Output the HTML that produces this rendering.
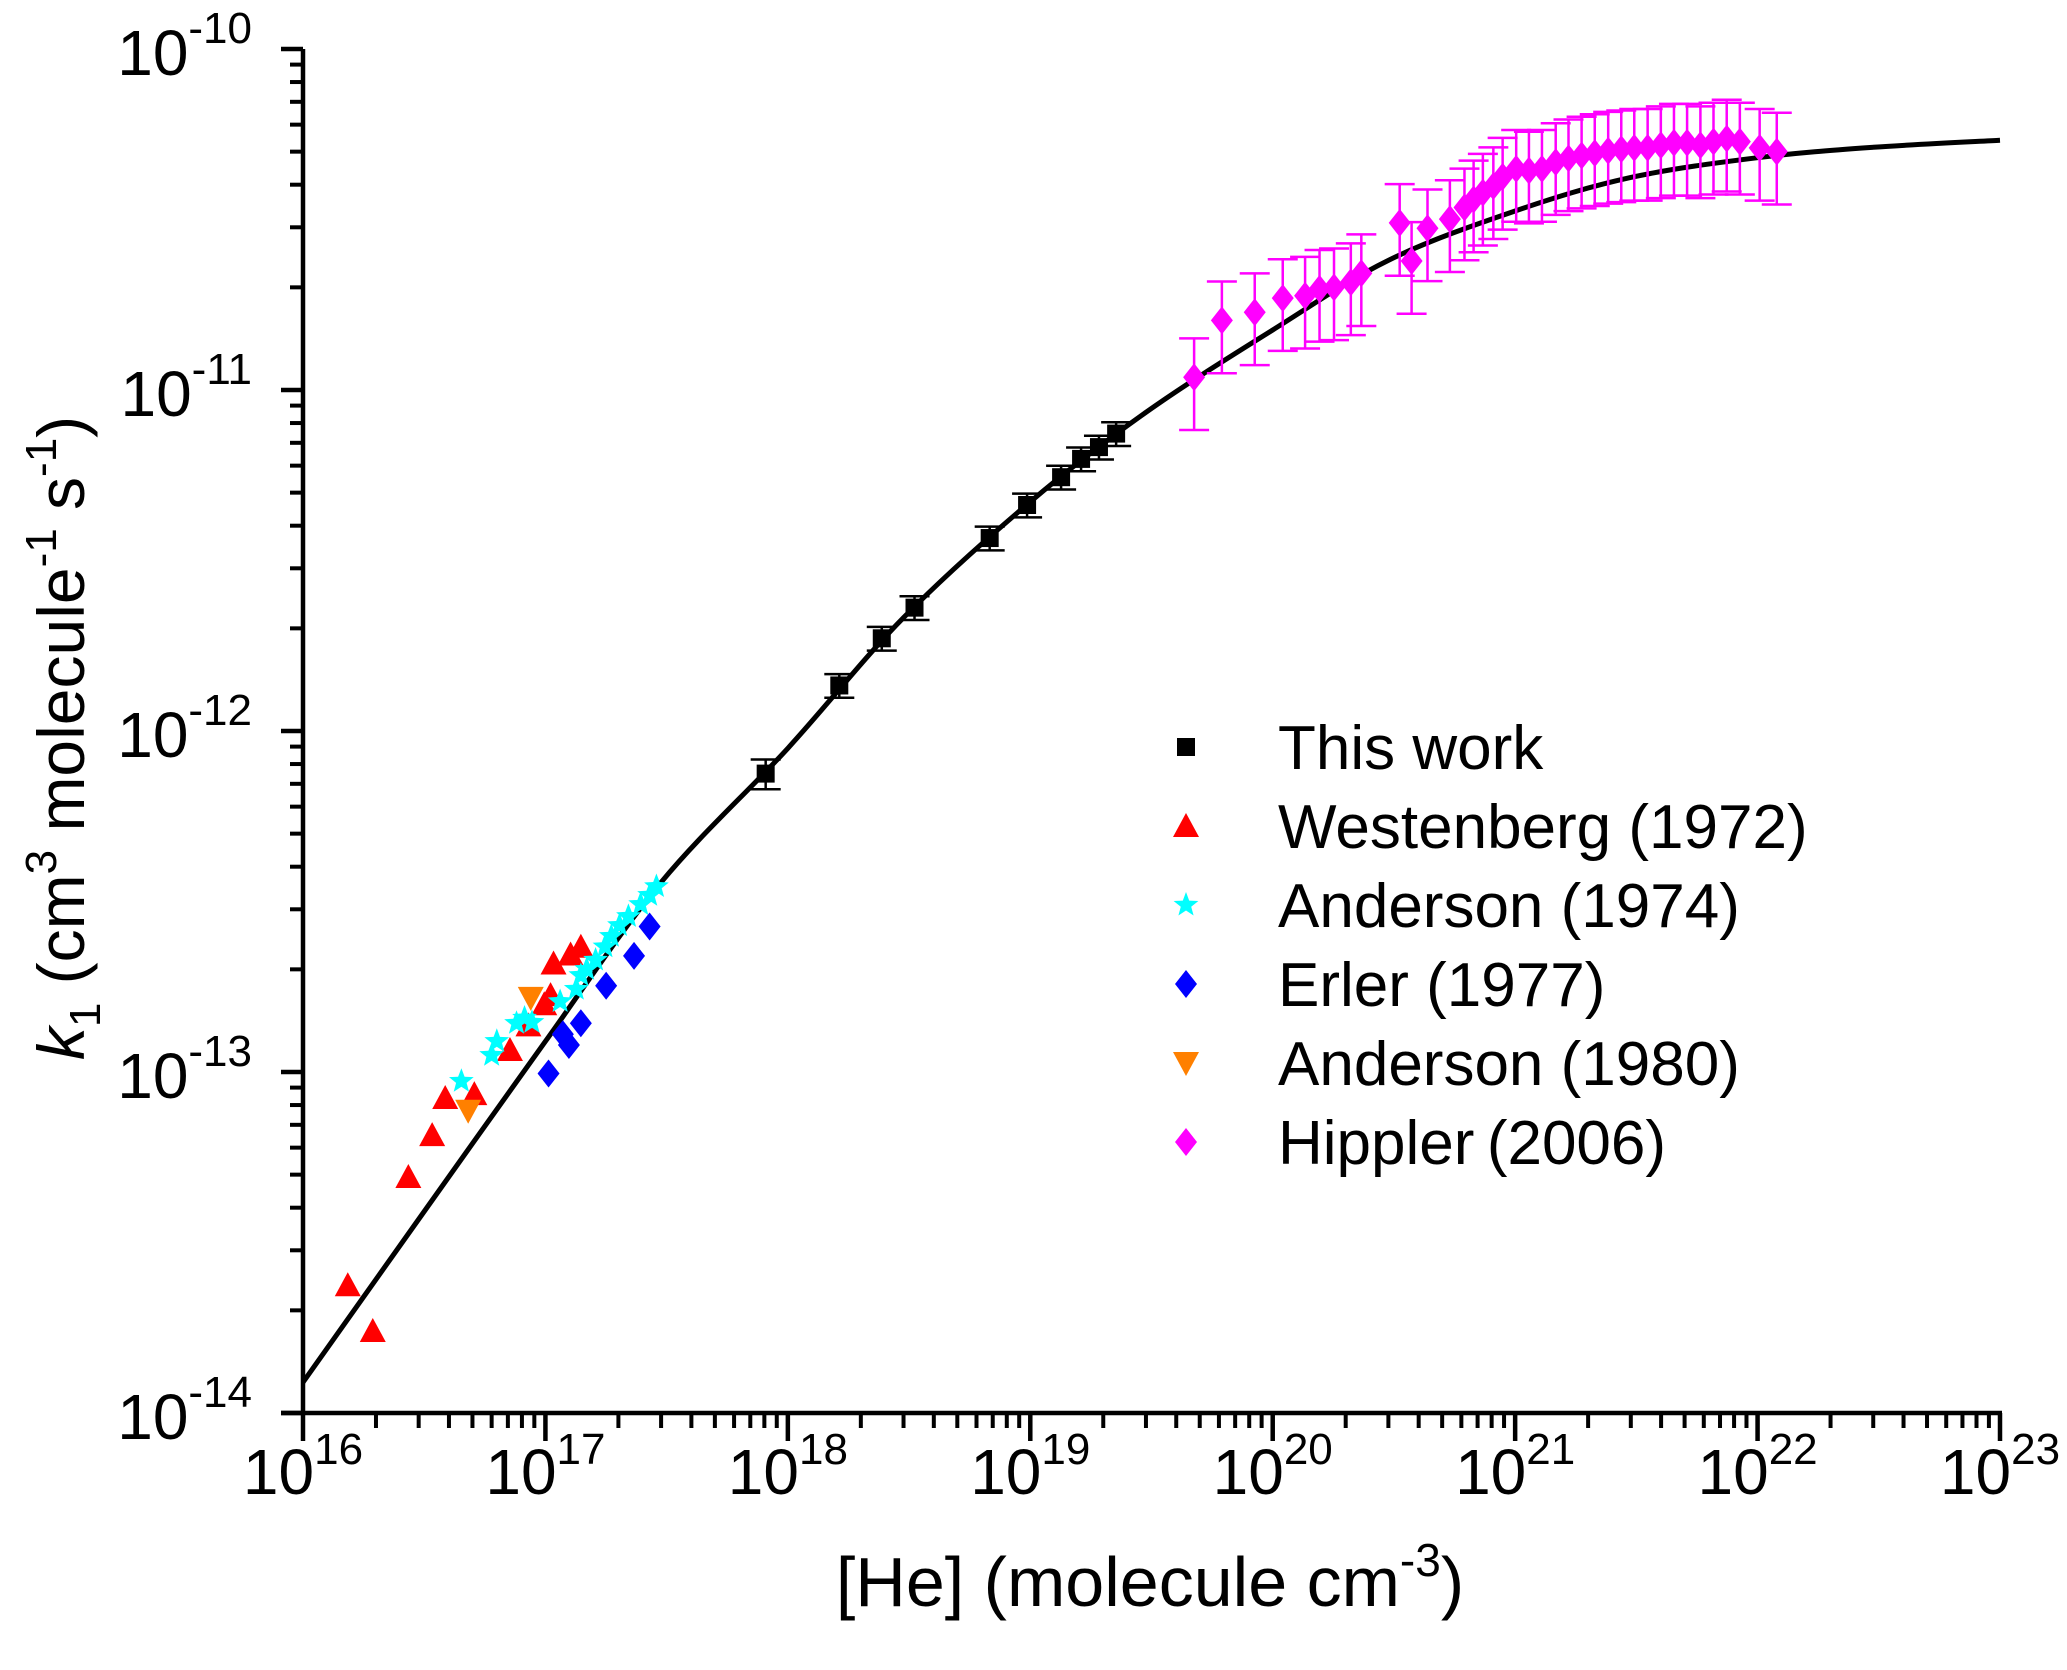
<!DOCTYPE html>
<html><head><meta charset="utf-8"><style>
html,body{margin:0;padding:0;background:#fff;}
svg{display:block;font-family:"Liberation Sans",Arial,sans-serif;}
</style></head><body>
<svg id="chart" width="2067" height="1670" viewBox="0 0 2067 1670" xmlns="http://www.w3.org/2000/svg">
<g id="axes"></g>
<g id="plot"></g>
<g id="legend"></g>
<text x="1150" y="1606" font-size="70" text-anchor="middle">[He] (molecule cm<tspan font-size="46" dy="-30">-3</tspan><tspan dy="30">)</tspan></text>
<text transform="translate(84,738) rotate(-90)" font-size="66" text-anchor="middle"><tspan font-style="italic">k</tspan><tspan font-size="44" dy="16">1</tspan><tspan dy="-16"> (cm</tspan><tspan font-size="44" dy="-28">3</tspan><tspan dy="28"> molecule</tspan><tspan font-size="44" dy="-28">-1</tspan><tspan dy="28"> s</tspan><tspan font-size="44" dy="-28">-1</tspan><tspan dy="28">)</tspan></text>
</svg>
<script>
// ---- data ----
const fitX = [1e16,3e16,1e17,3e17,1e18,3e18,1e19,3e19,1e20,3e20,1e21,3e21,1e22,3e22,1e23];
const fitK = [1.23e-14,3.7e-14,1.23e-13,3.6e-13,0.89e-12,2.15e-12,4.7e-12,8.6e-12,1.5e-11,2.4e-11,3.35e-11,4.2e-11,4.8e-11,5.15e-11,5.4e-11];

const thisWorkX = [8.1e17,1.63e18,2.44e18,3.33e18,6.8e18,9.7e18,1.34e19,1.62e19,1.92e19,2.26e19];
const thisWorkK = [7.5e-13,1.36e-12,1.87e-12,2.3e-12,3.68e-12,4.6e-12,5.55e-12,6.28e-12,6.8e-12,7.45e-12];
const thisWorkErr = [0.1,0.08,0.08,0.08,0.08,0.08,0.08,0.08,0.08,0.08];

const westX = [1.53e16,1.94e16,2.72e16,3.41e16,3.86e16,5.09e16,7.14e16,8.51e16,9.89e16,1.05e17,1.08e17,1.27e17,1.40e17];
const westK = [2.37e-14,1.74e-14,4.92e-14,6.53e-14,8.39e-14,8.61e-14,1.16e-13,1.37e-13,1.58e-13,1.68e-13,2.08e-13,2.21e-13,2.33e-13];

const and74X = [4.5e16,6.0e16,6.3e16,7.6e16,8.2e16,8.8e16,1.15e17,1.34e17,1.40e17,1.48e17,1.61e17,1.76e17,1.87e17,2.02e17,2.20e17,2.47e17,2.69e17,2.87e17];
const and74K = [9.4e-14,1.12e-13,1.23e-13,1.39e-13,1.44e-13,1.40e-13,1.61e-13,1.75e-13,1.92e-13,2.0e-13,2.13e-13,2.33e-13,2.5e-13,2.69e-13,2.86e-13,3.1e-13,3.3e-13,3.5e-13];

const erlerX = [1.03e17,1.18e17,1.25e17,1.40e17,1.78e17,2.32e17,2.69e17];
const erlerK = [9.9e-14,1.29e-13,1.2e-13,1.39e-13,1.79e-13,2.19e-13,2.67e-13];

const and80X = [4.8e16,8.7e16];
const and80K = [7.7e-14,1.65e-13];

const hipX = [4.74e19,6.17e19,8.43e19,1.10e20,1.36e20,1.56e20,1.79e20,2.10e20,2.32e20,3.34e20,3.74e20,4.35e20,5.38e20,6.18e20,6.74e20,7.36e20,8.13e20,8.88e20,1.01e21,1.14e21,1.29e21,1.47e21,1.66e21,1.88e21,2.13e21,2.42e21,2.74e21,3.10e21,3.52e21,3.99e21,4.52e21,5.12e21,5.81e21,6.58e21,7.46e21,8.45e21,1.02e22,1.20e22];
const hipK = [1.09e-11,1.60e-11,1.69e-11,1.86e-11,1.89e-11,1.98e-11,2.0e-11,2.07e-11,2.2e-11,3.09e-11,2.39e-11,2.98e-11,3.17e-11,3.43e-11,3.62e-11,3.79e-11,3.96e-11,4.22e-11,4.45e-11,4.4e-11,4.45e-11,4.66e-11,4.78e-11,4.87e-11,4.95e-11,5.03e-11,5.08e-11,5.13e-11,5.13e-11,5.22e-11,5.31e-11,5.31e-11,5.22e-11,5.35e-11,5.46e-11,5.35e-11,5.13e-11,5.0e-11];
const hipErr = 0.3;

const xTickExp = [16,17,18,19,20,21,22,23];
const yTickExp = [-14,-13,-12,-11,-10];
const legendLabels = ["This work","Westenberg (1972)","Anderson (1974)","Erler  (1977)","Anderson (1980)","Hippler\u2009(2006)"];

// ---- axes ----
const L=303, R=2000, T=49, B=1413;
const xMin=16, xMax=23, yMin=-14, yMax=-10;
function sx(v){return L+(Math.log10(v)-xMin)/(xMax-xMin)*(R-L);}
function sy(v){return B-(Math.log10(v)-yMin)/(yMax-yMin)*(B-T);}
const NS="http://www.w3.org/2000/svg";
function mk(tag,attrs,parent){const e=document.createElementNS(NS,tag);for(const k in attrs)e.setAttribute(k,attrs[k]);parent.appendChild(e);return e;}
const axes=document.getElementById('axes'), plot=document.getElementById('plot'), legend=document.getElementById('legend');

let line=mk('line',{x1:L,y1:T,x2:L,y2:B+2,stroke:'#000','stroke-width':4.5},axes);


line=mk('line',{x1:L-22,y1:B,x2:R+2,y2:B,stroke:'#000','stroke-width':4.5},axes);



xTickExp.forEach((e,i)=>{
  const x=sx(Math.pow(10,e));
  const t=mk('line',{x1:x,y1:B,x2:x,y2:B+28,stroke:'#000','stroke-width':4.5},axes);
  
  
  if(i<xTickExp.length-1){for(let m=2;m<=9;m++){const xm=sx(m*Math.pow(10,e));
    const tm=mk('line',{x1:xm,y1:B,x2:xm,y2:B+15,stroke:'#000','stroke-width':4},axes);
    
    }}
  const tx=mk('text',{x:x,y:1494,'font-size':64,'text-anchor':'middle'},axes);
  
  
  tx.innerHTML='10<tspan font-size="44" dy="-30">'+e+'</tspan>';
});
yTickExp.forEach((e,i)=>{
  const y=sy(Math.pow(10,e));
  const t=mk('line',{x1:L-22,y1:y,x2:L,y2:y,stroke:'#000','stroke-width':4.5},axes);
  
  
  if(i<yTickExp.length-1){for(let m=2;m<=9;m++){const ym=sy(m*Math.pow(10,e));
    const tm=mk('line',{x1:L-13,y1:ym,x2:L,y2:ym,stroke:'#000','stroke-width':4},axes);
    
    }}
  const tx=mk('text',{x:252,y:y+26,'font-size':64,'text-anchor':'end'},axes);
  
  
  tx.innerHTML='10<tspan font-size="44" dy="-32">'+e+'</tspan>';
});

// ---- fit curve (Catmull-Rom through read points) ----
(function(){
  const p=fitX.map((x,i)=>[sx(x),sy(fitK[i])]);
  let d='M'+p[0][0]+','+p[0][1];
  for(let i=0;i<p.length-1;i++){
    const p0=p[Math.max(i-1,0)],p1=p[i],p2=p[i+1],p3=p[Math.min(i+2,p.length-1)];
    const c1=[p1[0]+(p2[0]-p0[0])/6,p1[1]+(p2[1]-p0[1])/6];
    const c2=[p2[0]-(p3[0]-p1[0])/6,p2[1]-(p3[1]-p1[1])/6];
    d+=' C'+c1[0]+','+c1[1]+' '+c2[0]+','+c2[1]+' '+p2[0]+','+p2[1];
  }
  const path=mk('path',{d:d,fill:'none',stroke:'#000','stroke-width':5},plot);
  
  
})();

// ---- markers ----
function marker(kind,x,y,color,parent){
  let e;
  if(kind==='square') e=mk('rect',{x:x-9,y:y-9,width:18,height:18,fill:color},parent);
  else if(kind==='up') e=mk('polygon',{points:`${x},${y-13} ${x+13},${y+11} ${x-13},${y+11}`,fill:color},parent);
  else if(kind==='down') e=mk('polygon',{points:`${x},${y+13} ${x+13},${y-11} ${x-13},${y-11}`,fill:color},parent);
  else if(kind==='diamond') e=mk('polygon',{points:`${x},${y-14} ${x+11},${y} ${x},${y+14} ${x-11},${y}`,fill:color},parent);
  else { let pts=[];for(let k=0;k<10;k++){const r=k%2?5.5:13;const a=-Math.PI/2+k*Math.PI/5;pts.push((x+r*Math.cos(a)).toFixed(1)+','+(y+r*Math.sin(a)).toFixed(1));}
    e=mk('polygon',{points:pts.join(' '),fill:color},parent);}
  return e;
}
function errbar(x,k,rel,color,cap,w){
  const y1=sy(k*(1+rel)), y2=sy(k*(1-rel));
  const g=mk('g',{stroke:color,'stroke-width':w},plot);
  
  
  mk('line',{x1:x,y1:y1,x2:x,y2:y2},g);
  mk('line',{x1:x-cap,y1:y1,x2:x+cap,y2:y1},g);
  mk('line',{x1:x-cap,y1:y2,x2:x+cap,y2:y2},g);
}
hipX.forEach((v,i)=>errbar(sx(v),hipK[i],hipErr,'#ff00ff',15,2.5));
thisWorkX.forEach((v,i)=>errbar(sx(v),thisWorkK[i],thisWorkErr[i],'#000',15,2.5));

const series=[
  {name:'this-work',kind:'square',color:'#000',X:thisWorkX,K:thisWorkK},
  {name:'westenberg-1972',kind:'up',color:'#ff0000',X:westX,K:westK},
  {name:'anderson-1974',kind:'star',color:'#00ffff',X:and74X,K:and74K},
  {name:'erler-1977',kind:'diamond',color:'#0000ff',X:erlerX,K:erlerK},
  {name:'anderson-1980',kind:'down',color:'#ff8000',X:and80X,K:and80K},
  {name:'hippler-2006',kind:'diamond',color:'#ff00ff',X:hipX,K:hipK}
];
series.forEach(s=>{
  const g=mk('g',{},plot);
  
  
  s.X.forEach((v,i)=>{
    const m=marker(s.kind,sx(v),sy(s.K[i]),s.color,g);
    
    
  });
});

// ---- legend ----
series.forEach((s,i)=>{
  const y=747+i*79;
  const g=mk('g',{},legend);
  
  
  marker(s.kind,1186,y,s.color,g);
  const t=mk('text',{x:1278,y:y+22,'font-size':62},g);
  t.textContent=legendLabels[i];
});
</script>
</body></html>
